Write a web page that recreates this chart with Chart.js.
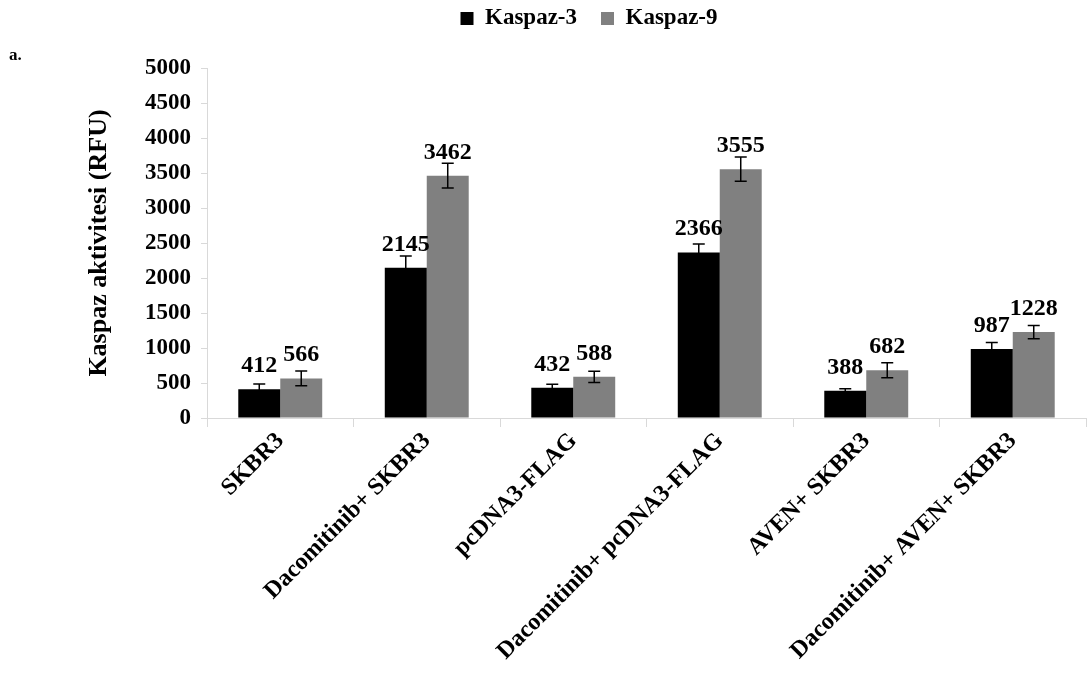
<!DOCTYPE html>
<html>
<head>
<meta charset="utf-8">
<script src="https://cdn.jsdelivr.net/npm/chart.js@4.4.1/dist/chart.umd.min.js"></script>
<style>
  html, body { margin: 0; padding: 0; background: #fff; }
  #wrap { position: relative; width: 1087px; height: 700px; }
  #panel { position: absolute; left: 9px; top: 45px; font: bold 17px "Liberation Serif", serif; }
</style>
</head>
<body>
<div id="wrap">
  <canvas id="caspaseChart" width="1087" height="700"></canvas>
  <div id="panel">a.</div>
</div>
<script>
const groups = [
  "SKBR3",
  "Dacomitinib+ SKBR3",
  "pcDNA3-FLAG",
  "Dacomitinib+ pcDNA3-FLAG",
  "AVEN+ SKBR3",
  "Dacomitinib+ AVEN+ SKBR3",
];
const kaspaz3 = [412, 2145, 432, 2366, 388, 987];
const kaspaz9 = [566, 3462, 588, 3555, 682, 1228];
const kaspaz3Err = [75, 170, 50, 120, 30, 90];
const kaspaz9Err = [105, 178, 80, 172, 108, 95];
const yTicks = [0, 500, 1000, 1500, 2000, 2500, 3000, 3500, 4000, 4500, 5000];

const serif = "'Liberation Serif', 'Times New Roman', serif";

// hata çubukları ve değer etiketleri
const barExtras = {
  id: "barExtras",
  afterDatasetsDraw(chart) {
    const ctx = chart.ctx;
    const y = chart.scales.y;
    const errs = [kaspaz3Err, kaspaz9Err];
    ctx.save();
    chart.data.datasets.forEach((ds, di) => {
      const meta = chart.getDatasetMeta(di);
      meta.data.forEach((bar, i) => {
        const v = ds.data[i];
        const e = errs[di][i];
        const yTop = y.getPixelForValue(v + e);
        const yBot = y.getPixelForValue(v - e);
        ctx.strokeStyle = "#000";
        ctx.lineWidth = 1.5;
        ctx.beginPath();
        ctx.moveTo(bar.x, yTop);
        ctx.lineTo(bar.x, yBot);
        ctx.moveTo(bar.x - 6, yTop);
        ctx.lineTo(bar.x + 6, yTop);
        ctx.moveTo(bar.x - 6, yBot);
        ctx.lineTo(bar.x + 6, yBot);
        ctx.stroke();
      });
    });
    chart.data.datasets.forEach((ds, di) => {
      const meta = chart.getDatasetMeta(di);
      meta.data.forEach((bar, i) => {
        ctx.fillStyle = "#000";
        ctx.font = "bold 24px " + serif;
        ctx.textAlign = "center";
        ctx.textBaseline = "alphabetic";
        ctx.fillText(String(ds.data[i]), bar.x, bar.y - 17);
      });
    });
    ctx.restore();
  },
};

// legend yüksekliği ve konumu
const legendTweak = {
  id: "legendTweak",
  beforeInit(chart) {
    const fit = chart.legend.fit;
    chart.legend.fit = function () {
      fit.bind(chart.legend)();
      this.height = 68;
    };
  },
  afterLayout(chart) {
    chart.legend.left += 4;
    chart.legend.right += 4;
    chart.legend.top -= 17;
    chart.legend.bottom -= 17;
  },
};

new Chart(document.getElementById("caspaseChart"), {
  type: "bar",
  data: {
    labels: groups,
    datasets: [
      {
        label: "Kaspaz-3",
        data: kaspaz3,
        backgroundColor: "#000000",
        categoryPercentage: 0.573,
        barPercentage: 1.0,
      },
      {
        label: "Kaspaz-9",
        data: kaspaz9,
        backgroundColor: "#808080",
        categoryPercentage: 0.573,
        barPercentage: 1.0,
      },
    ],
  },
  options: {
    responsive: false,
    animation: false,
    layout: { padding: { left: 84, right: 1, top: 0, bottom: 0 } },
    plugins: {
      tooltip: { enabled: false },
      legend: {
        position: "top",
        align: "center",
        labels: {
          color: "#000",
          font: { family: serif, size: 23, weight: "bold" },
          boxWidth: 13,
          boxHeight: 13,
          padding: 24,
        },
      },
    },
    scales: {
      x: {
        grid: {
          drawOnChartArea: false,
          color: "#d9d9d9",
          tickLength: 9,
        },
        border: { color: "#d9d9d9" },
        ticks: {
          color: "#000",
          font: { family: serif, size: 24, weight: "bold" },
          minRotation: 45,
          maxRotation: 45,
          padding: 0,
        },
        afterFit(scale) {
          scale.height = 282;
        },
      },
      y: {
        min: 0,
        max: 5000,
        afterBuildTicks(scale) {
          scale.ticks = yTicks.map((v) => ({ value: v }));
        },
        grid: {
          drawOnChartArea: false,
          color: "#d9d9d9",
          tickLength: 6,
        },
        border: { color: "#d9d9d9" },
        ticks: {
          color: "#000",
          font: { family: serif, size: 23, weight: "bold" },
          padding: 10,
          callback: (v) => String(v),
        },
        title: {
          display: true,
          text: "Kaspaz aktivitesi (RFU)",
          color: "#000",
          font: { family: serif, size: 26, weight: "bold" },
          padding: 0,
        },
        afterFit(scale) {
          scale.width = 123;
        },
      },
    },
  },
  plugins: [barExtras, legendTweak],
});
</script>
</body>
</html>
